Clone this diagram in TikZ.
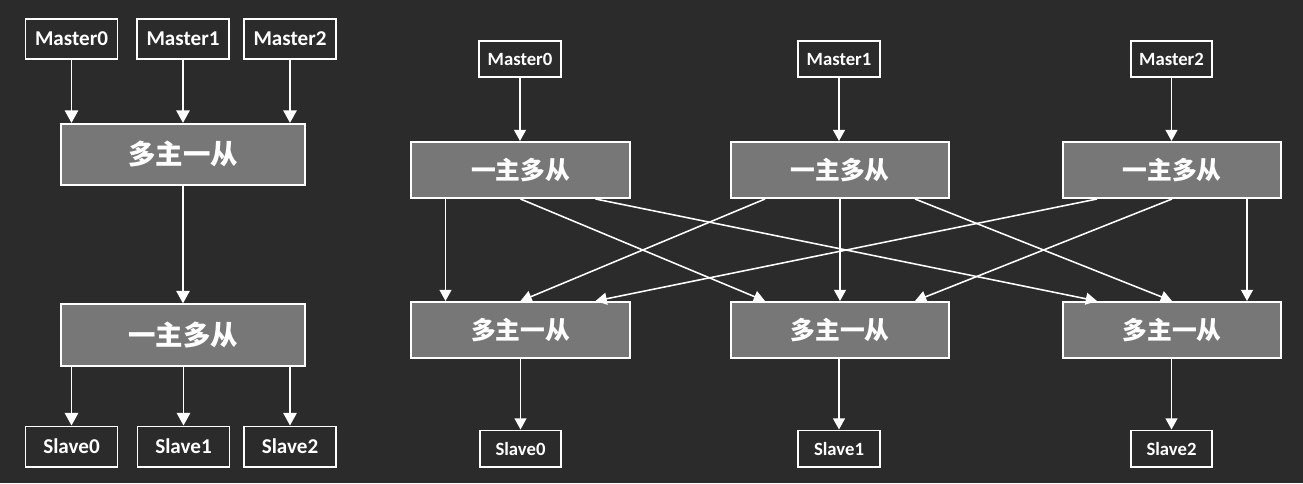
\documentclass[tikz,border=0pt]{standalone}
\usepackage{fontspec}
\setmainfont{Carlito}
\newfontfamily\cjk{Noto Sans CJK SC}
\usetikzlibrary{arrows.meta, calc}
\definecolor{Back}{HTML}{2B2B2B}
\definecolor{Box}{HTML}{777777}

\begin{document}
\begin{tikzpicture}[
  x=0.025cm, y=-0.025cm,
  port/.style={draw=white, line width=1.4pt, fill=Back, text=white, inner sep=0pt, font=\bfseries\fontsize{15}{16}\selectfont},
  bigport/.style={port, minimum width=2.3cm, minimum height=1.0cm},
  smallport/.style={port, minimum width=2.03cm, minimum height=0.9cm, font=\bfseries\fontsize{13.3}{14}\selectfont},
  hub/.style={draw=white, line width=1.4pt, fill=Box, text=white, inner sep=0pt, font=\cjk\bfseries\fontsize{19.5}{20}\selectfont, minimum width=6.1cm, minimum height=1.53cm},
  smallhub/.style={hub, minimum width=5.45cm, minimum height=1.4cm, font=\cjk\bfseries\fontsize{17.6}{18}\selectfont},
  arrow/.style={-{Triangle[length=9pt, width=9.5pt]}, line width=1.4pt, draw=white},
  thin/.style={-{Triangle[length=8pt, width=8.5pt]}, line width=1.1pt, draw=white}
]
\fill[Back] (0,0) rectangle (1303,483);

% left: many masters -> one slave -> many slaves
\node[bigport] (lm0) at (71.5,39) {Master0};
\node[bigport] (lm1) at (183,39) {Master1};
\node[bigport] (lm2) at (290,39) {Master2};
\node[hub] (lmulti) at (183,154.5) {多主一从};
\node[hub] (lsingle) at (183,335) {一主多从};
\node[bigport] (ls0) at (71.5,446.5) {Slave0};
\node[bigport] (ls1) at (183.5,446.5) {Slave1};
\node[bigport] (ls2) at (290,446.5) {Slave2};

\foreach \i in {0,1,2} {
  \draw[arrow] (lm\i.south) -- (lm\i.south |- lmulti.north);
  \draw[arrow] (ls\i.north |- lsingle.south) -- (ls\i.north);
}
\draw[arrow] (lmulti) -- (lsingle);

% right: one demux per master, one mux per slave
\node[smallport] (rm0) at (520,59) {Master0};
\node[smallport] (rm1) at (839,59) {Master1};
\node[smallport] (rm2) at (1171.5,59) {Master2};
\node[smallhub] (t0) at (520.5,170) {一主多从};
\node[smallhub] (t1) at (840,170) {一主多从};
\node[smallhub] (t2) at (1172,170) {一主多从};
\node[smallhub] (b0) at (520.5,330) {多主一从};
\node[smallhub] (b1) at (840,330) {多主一从};
\node[smallhub] (b2) at (1172,330) {多主一从};
\node[smallport] (rs0) at (520.5,448.5) {Slave0};
\node[smallport] (rs1) at (839,448.5) {Slave1};
\node[smallport] (rs2) at (1171.5,448.5) {Slave2};

\foreach \i in {0,1,2} {
  \draw[thin] (rm\i.south) -- (rm\i.south |- t\i.north);
  \draw[thin] (rs\i.north |- b\i.south) -- (rs\i.north);
  \foreach \j in {0,1,2}
    \draw[thin] ($(t\i.south)+({(\j-1)*75},0)$) -- ($(b\j.north)+({(\i-1)*75},0)$);
}
\end{tikzpicture}
\end{document}
